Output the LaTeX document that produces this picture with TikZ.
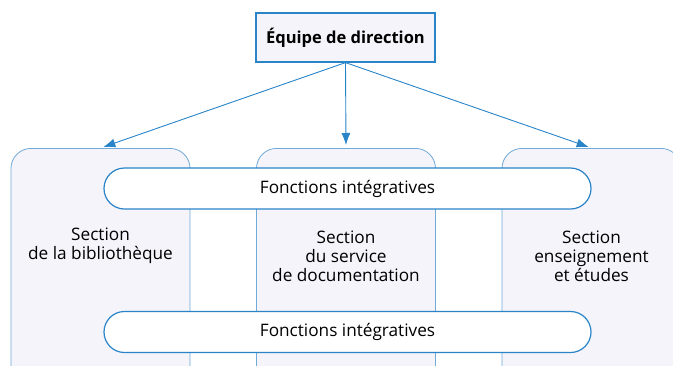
\documentclass[tikz,border=0pt]{standalone}
\usepackage{fontspec}
\setmainfont{Open Sans}
\usetikzlibrary{arrows.meta}
\definecolor{lineblue}{HTML}{2A84C8}
\definecolor{softblue}{HTML}{6FAAD9}
\definecolor{boxfill}{HTML}{F4F4FA}
\tikzset{
  headbox/.style={draw=lineblue, line width=1.2pt, fill=boxfill, minimum width=179pt, minimum height=49pt, inner sep=0pt, font=\fontsize{16.5}{19}\selectfont\bfseries},
  section/.style={draw=softblue, line width=0.8pt, fill=boxfill, rounded corners=20pt, minimum width=179pt, minimum height=260pt, inner sep=0pt},
  pill/.style={draw=lineblue, line width=1.2pt, fill=white, rounded corners=20.5pt, minimum width=487pt, minimum height=41pt, inner sep=0pt, font=\fontsize{17.2}{19}\selectfont},
  label/.style={align=center, font=\fontsize{17.2}{19.2}\selectfont, inner sep=0pt},
  link/.style={draw=lineblue, line width=0.9pt, -{Latex[length=12pt, width=9pt]}, shorten >=3pt}
}
\begin{document}
\begin{tikzpicture}[x=1pt, y=-1pt]
  \useasboundingbox (0,0) rectangle (673,365);
  \clip (0,0) rectangle (673,365);

  % three sections, cut off at the lower edge
  \node[section, anchor=north] (left) at (100.5,148) {};
  \node[section, anchor=north] (mid) at (346,148) {};
  \node[section, anchor=north] (right) at (591.5,148) {};

  % integrating bands across the sections
  \node[pill] (topband) at (347.5,188.5) {Fonctions intégratives};
  \node[pill] (botband) at (347.5,332) {Fonctions intégratives};

  % section titles
  \node[label] (ltext) at (100.5,246) {Section\\de la bibliothèque};
  \node[label] (mtext) at (346,256) {Section\\du service\\de documentation};
  \node[label] (rtext) at (591.5,256) {Section\\enseignement\\et études};

  % management team and its links
  \node[headbox] (head) at (345.5,37.5) {Équipe de direction};
  \draw[link] (head.south) -- (left.north);
  \draw[link] (head.south) -- (mid.north);
  \draw[link] (head.south) -- (right.north);
\end{tikzpicture}
\end{document}
